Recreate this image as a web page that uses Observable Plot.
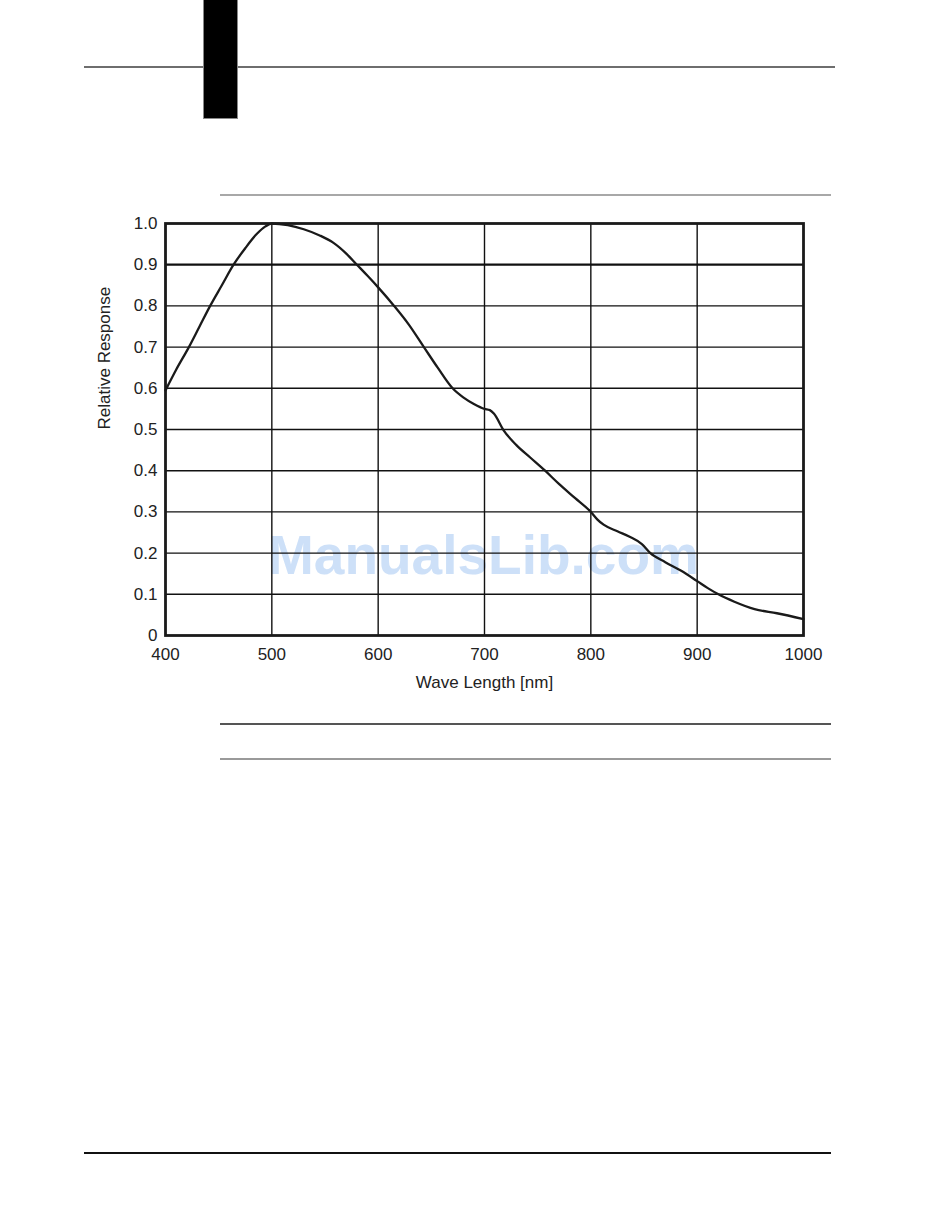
<!DOCTYPE html>
<html>
<head>
<meta charset="utf-8">
<script src="https://cdn.jsdelivr.net/npm/d3@7"></script>
<script src="https://cdn.jsdelivr.net/npm/@observablehq/plot@0.6"></script>
<style>
  html, body { margin: 0; padding: 0; background: #fff; }
  #page { position: relative; width: 950px; height: 1221px; overflow: hidden; }
  .rule { position: absolute; }
  #chart { position: absolute; left: 0; top: 0; z-index: 2; }
  #chart svg { background: transparent !important; }
  #wm { position: absolute; left: 268px; top: 528px; z-index: 1; font: bold 55px "Liberation Sans", Arial, sans-serif; color: #cde0f8; white-space: nowrap; line-height: 1; }
</style>
</head>
<body>
<div id="page">
  <div class="rule" style="left:84px;top:66px;width:751px;height:2px;background:#6e6e6e"></div>
  <div class="rule" style="left:204px;top:0px;width:33px;height:118px;background:#000;box-shadow:0 0 0 1px #888"></div>
  <div class="rule" style="left:220px;top:194px;width:611px;height:1.5px;background:#a8a8a8"></div>
  <div class="rule" style="left:220px;top:723px;width:611px;height:1.5px;background:#555"></div>
  <div class="rule" style="left:220px;top:758px;width:611px;height:1.5px;background:#9a9a9a"></div>
  <div class="rule" style="left:84px;top:1152px;width:747px;height:2px;background:#111"></div>
  <div id="wm">ManualsLib.com</div>
  <div id="chart"></div>
</div>
<script>
const wavelength = [400, 410, 422, 432, 442, 453, 464, 475, 486, 494, 500, 515, 530, 545, 558, 570, 580, 590, 600, 615, 629, 643, 656, 670, 680, 690, 700, 705, 709, 718, 730, 743, 757, 770, 785, 800, 806, 812, 825, 837, 848, 856, 870, 885, 900, 910, 920, 935, 954, 975, 1000];
const response = [0.595, 0.645, 0.70, 0.75, 0.80, 0.85, 0.90, 0.94, 0.975, 0.993, 1.0, 0.996, 0.986, 0.971, 0.953, 0.927, 0.90, 0.873, 0.845, 0.80, 0.754, 0.70, 0.65, 0.60, 0.578, 0.562, 0.55, 0.547, 0.538, 0.498, 0.462, 0.432, 0.40, 0.368, 0.334, 0.30, 0.282, 0.269, 0.253, 0.239, 0.222, 0.20, 0.178, 0.157, 0.132, 0.115, 0.10, 0.082, 0.064, 0.054, 0.040];
const xTicks = [400, 500, 600, 700, 800, 900, 1000];
const yTicks = [0, 0.1, 0.2, 0.3, 0.4, 0.5, 0.6, 0.7, 0.8, 0.9, 1.0];
const xGrid = [500, 600, 700, 800, 900];
const yGrid = [0.1, 0.2, 0.3, 0.4, 0.5, 0.6, 0.7, 0.8];
const yGridBold = [0.9];
const xTitle = "Wave Length [nm]";
const yTitle = "Relative Response";

const data = wavelength.map((w, i) => ({w, r: response[i]}));
const font = '"Liberation Sans", Arial, sans-serif';

const chart = Plot.plot({
  width: 950,
  height: 720,
  marginLeft: 165,
  marginRight: 147,
  marginTop: 223,
  marginBottom: 85,
  style: {background: "transparent", fontFamily: font, fontSize: "17px", color: "#222"},
  x: {domain: [400, 1000], ticks: xTicks},
  y: {domain: [0, 1], ticks: yTicks},
  marks: [
    Plot.ruleX(xGrid, {stroke: "#111", strokeWidth: 1.4}),
    Plot.ruleY(yGrid, {stroke: "#111", strokeWidth: 1.4}),
    Plot.ruleY(yGridBold, {stroke: "#111", strokeWidth: 2.2}),
    Plot.line(data, {x: "w", y: "r", stroke: "#1a1a1a", strokeWidth: 2.3, curve: "monotone-x"}),
    Plot.frame({stroke: "#1a1a1a", strokeWidth: 2.8}),
    Plot.axisX({ticks: xTicks, tickSize: 0, tickPadding: 12, label: null, fontSize: 17, fill: "#222", tickFormat: d => String(d)}),
    Plot.axisY({ticks: yTicks, tickSize: 0, tickPadding: 8, label: null, fontSize: 17, fill: "#222", tickFormat: d => d === 0 ? "0" : d3.format(".1f")(d)}),
    Plot.text([xTitle], {frameAnchor: "bottom", dy: 52, text: d => d, fontSize: 17, fill: "#222"}),
    Plot.text([yTitle], {frameAnchor: "left", dx: -61, rotate: -90, text: d => d, fontSize: 17, fill: "#222"})
  ]
});
document.getElementById("chart").appendChild(chart);
</script>
</body>
</html>
